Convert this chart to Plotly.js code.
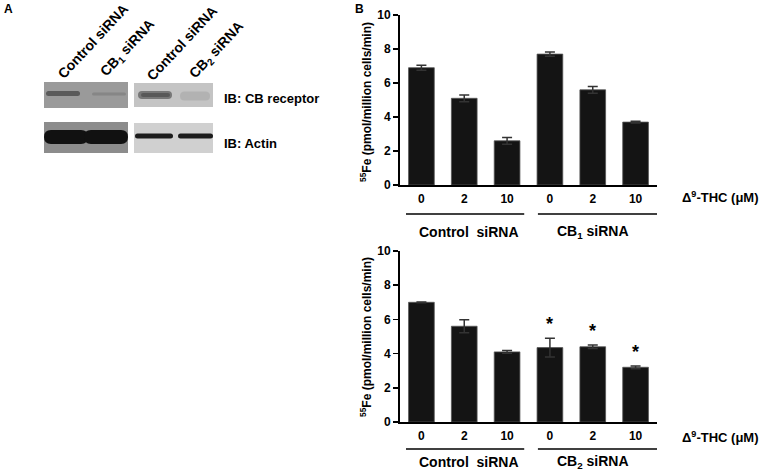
<!DOCTYPE html>
<html>
<head>
<meta charset="utf-8">
<script src="https://cdn.plot.ly/plotly-3.0.1.min.js"></script>
<style>html,body{margin:0;padding:0;background:#fff;}#chart{width:765px;height:471px;}</style>
</head>
<body>
<div id="chart"></div>
<script>
// ---- data ----
const doseLabels = ["0", "2", "10", "0", "2", "10"];
const topGroups = ["Control  siRNA", "CB<sub>1</sub> siRNA"];
const bottomGroups = ["Control  siRNA", "CB<sub>2</sub> siRNA"];
const topValues = [6.9, 5.1, 2.6, 7.7, 5.6, 3.7];
const topErrors = [0.15, 0.2, 0.2, 0.13, 0.2, 0.05];
const bottomValues = [7.0, 5.6, 4.1, 4.35, 4.4, 3.2];
const bottomErrors = [0.02, 0.38, 0.08, 0.55, 0.1, 0.08];
const bottomSignificant = [false, false, false, true, true, true];
const yTicks = [0, 2, 4, 6, 8, 10];
const laneLabels = ["Control siRNA", "CB<sub>1</sub> siRNA", "Control siRNA", "CB<sub>2</sub> siRNA"];
const yTitle = "<sup>55</sup>Fe (pmol/million cells/min)";
const doseTitle = "\u0394<sup>9</sup>-THC (\u03bcM)";

// ---- layout helpers ----
const W = 765, H = 471;
const px = x => x / W;
const py = y => 1 - y / H;
const FONT = "Liberation Sans, Arial, sans-serif";
const xs = doseLabels.map((_, i) => i);

function barTrace(vals, errs, xa, ya) {
  return {
    type: "bar", x: xs, y: vals, xaxis: xa, yaxis: ya,
    marker: {color: "#141414", line: {color: "#555", width: 0.8}},
    width: 0.6,
    error_y: {type: "data", array: errs, visible: true, color: "#333", thickness: 1.5, width: 5},
    hoverinfo: "skip", showlegend: false
  };
}

const traces = [
  barTrace(topValues, topErrors, "x", "y"),
  barTrace(bottomValues, bottomErrors, "x2", "y2")
];

function xaxisDef(anchor) {
  return {
    domain: [px(400), px(657)], anchor: anchor, range: [-0.5, 5.5],
    tickvals: xs, ticktext: doseLabels, ticks: "", showline: true, linecolor: "#000", linewidth: 2,
    showgrid: false, zeroline: false, ticklabelstandoff: 2,
    tickfont: {family: FONT, size: 12, color: "#000", weight: "bold"}, fixedrange: true
  };
}
function yaxisDef(anchor, top, bottom) {
  return {
    domain: [py(bottom), py(top)], anchor: anchor, range: [0, 10],
    tickvals: yTicks, ticks: "outside", ticklen: 5, tickwidth: 1.5, tickcolor: "#000",
    showline: true, linecolor: "#000", linewidth: 2, showgrid: false, zeroline: false,
    tickfont: {family: FONT, size: 12, color: "#000", weight: "bold"}, fixedrange: true
  };
}

const shapes = [];
const annotations = [];

// group underline + labels for each chart
function groupDecor(xa, labelRowY, lineY, labelY, groups) {
  const spans = [[-0.36, 2.4], [2.72, 5.5]];
  spans.forEach((s, i) => {
    shapes.push({type: "line", xref: xa, yref: "paper", x0: s[0], x1: s[1], y0: py(lineY), y1: py(lineY),
      line: {color: "#000", width: 1.6}});
    annotations.push({xref: xa, yref: "paper", x: i === 0 ? 1.1 : 4.0, y: py(labelY), text: groups[i],
      showarrow: false, xanchor: "center", yanchor: "middle",
      font: {family: FONT, size: 14, color: "#000", weight: "bold"}});
  });
  annotations.push({xref: "paper", yref: "paper", x: px(680), y: py(labelRowY), text: doseTitle,
    showarrow: false, xanchor: "left", yanchor: "middle",
    font: {family: FONT, size: 13, color: "#000", weight: "bold"}});
}
groupDecor("x", 197, 214, 232, topGroups);
groupDecor("x2", 437, 449, 462, bottomGroups);

// y titles
[[102], [337]].forEach(([cy]) => {
  annotations.push({xref: "paper", yref: "paper", x: px(366), y: py(cy), text: yTitle, textangle: -90,
    showarrow: false, xanchor: "center", yanchor: "middle",
    font: {family: FONT, size: 12, color: "#000", weight: "bold"}});
});

// significance asterisks
bottomSignificant.forEach((sig, i) => {
  if (!sig) return;
  annotations.push({xref: "x2", yref: "y2", x: i, y: bottomValues[i] + bottomErrors[i], text: "*",
    showarrow: false, yanchor: "bottom", yshift: 2,
    font: {family: FONT, size: 18, color: "#000", weight: "bold"}});
});

// panel letters
annotations.push({xref: "paper", yref: "paper", x: px(2), y: py(9), text: "A", showarrow: false,
  xanchor: "left", yanchor: "middle", font: {family: FONT, size: 12, color: "#000", weight: "bold"}});
annotations.push({xref: "paper", yref: "paper", x: px(353), y: py(9), text: "B", showarrow: false,
  xanchor: "left", yanchor: "middle", font: {family: FONT, size: 12, color: "#000", weight: "bold"}});

// ---- panel A: western blot sketch ----
function rect(x0, y0, x1, y1, fill) {
  shapes.push({type: "rect", xref: "paper", yref: "paper", x0: px(x0), x1: px(x1), y0: py(y1), y1: py(y0),
    fillcolor: fill, line: {width: 0}, layer: "above"});
}
function band(x0, x1, yc, h, fill, op) {
  const r = h / 2;
  const X = v => px(v), Y = v => py(v);
  const path = `M ${X(x0 + r)} ${Y(yc - r)} L ${X(x1 - r)} ${Y(yc - r)} Q ${X(x1)} ${Y(yc - r)} ${X(x1)} ${Y(yc)} Q ${X(x1)} ${Y(yc + r)} ${X(x1 - r)} ${Y(yc + r)} L ${X(x0 + r)} ${Y(yc + r)} Q ${X(x0)} ${Y(yc + r)} ${X(x0)} ${Y(yc)} Q ${X(x0)} ${Y(yc - r)} ${X(x0 + r)} ${Y(yc - r)} Z`;
  shapes.push({type: "path", xref: "paper", yref: "paper", path: path, fillcolor: fill, opacity: op,
    line: {width: 0}, layer: "above"});
}
// top blots (CB receptor)
rect(44, 82, 128, 108, "#9a9a9a");
band(46, 80, 93.5, 5, "#4a4a4a", 0.8);
band(92, 126, 94, 3, "#7a7a7a", 0.6);
rect(134, 83, 213, 107, "#c4c4c4");
band(138, 172, 95, 8, "#5e5e5e", 0.75);
band(141, 170, 95, 4, "#444", 0.6);
band(180, 210, 96, 9, "#ababab", 0.7);
// bottom blots (Actin)
rect(44, 122, 128, 153, "#8c8c8c");
band(44, 88, 137, 14, "#111", 1);
band(84, 128, 137, 14, "#111", 1);
rect(134, 123, 213, 153, "#d0d0d0");
band(135, 173, 136, 5, "#1c1c1c", 1);
band(178, 213, 136, 5, "#1c1c1c", 1);
// blot labels
annotations.push({xref: "paper", yref: "paper", x: px(222), y: py(99), text: "IB: CB receptor", showarrow: false,
  xanchor: "left", yanchor: "middle", font: {family: FONT, size: 13, color: "#000", weight: "bold"}});
annotations.push({xref: "paper", yref: "paper", x: px(222), y: py(144), text: "IB: Actin", showarrow: false,
  xanchor: "left", yanchor: "middle", font: {family: FONT, size: 13, color: "#000", weight: "bold"}});
const laneCenters = [[93, 41], [128, 48], [182, 43], [217, 50]];
laneLabels.forEach((t, i) => {
  annotations.push({xref: "paper", yref: "paper", x: px(laneCenters[i][0]), y: py(laneCenters[i][1]), text: t,
    textangle: -47, showarrow: false, xanchor: "center", yanchor: "middle",
    font: {family: FONT, size: 14, color: "#000", weight: "bold"}});
});

const layout = {
  width: W, height: H, margin: {l: 0, r: 0, t: 0, b: 0},
  paper_bgcolor: "#fff", plot_bgcolor: "rgba(0,0,0,0)",
  showlegend: false, bargap: 0.4,
  xaxis: xaxisDef("y"), yaxis: yaxisDef("x", 15, 185),
  xaxis2: xaxisDef("y2"), yaxis2: yaxisDef("x2", 251, 422),
  shapes: shapes, annotations: annotations,
  font: {family: FONT, color: "#000"}
};
Plotly.newPlot("chart", traces, layout, {displayModeBar: false, staticPlot: true});
</script>
</body>
</html>
